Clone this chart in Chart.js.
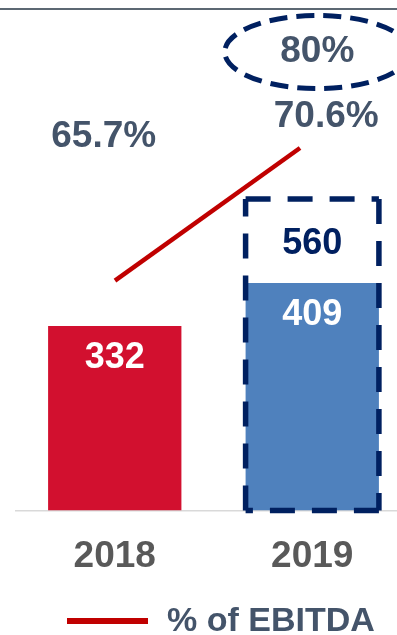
<!DOCTYPE html>
<html>
<head>
<meta charset="utf-8">
<script src="https://cdn.jsdelivr.net/npm/chart.js@4.4.0/dist/chart.umd.min.js"></script>
<style>
  html, body { margin: 0; padding: 0; background: #fff; overflow: hidden; }
  #wrap { position: relative; width: 411px; height: 635px; }
</style>
</head>
<body>
<div id="wrap"><canvas id="chart_ebitda"></canvas></div>
<script>
// chart data
const years = ["2018", "2019"];
const ebitda = [332, 409];
const ebitdaTarget = [null, 560];
const pctEbitda = [65.7, 70.6];
const pctTarget = [null, 80];

// colours / fonts
const FONT = "Arial, 'Liberation Sans', sans-serif";
const red_bar = "#D2102F";
const blue_bar = "#4F81BD";
const navy = "#002060";
const red_line = "#C00000";
const slate = "#44546A";

// thin rule along the top of the slide
const topRule = {
  id: "topRule",
  beforeDraw(chart) {
    const ctx = chart.ctx;
    ctx.save();
    ctx.strokeStyle = "#5c6873";
    ctx.lineWidth = 2;
    ctx.beginPath();
    ctx.moveTo(0, 9);
    ctx.lineTo(chart.width, 9);
    ctx.stroke();
    ctx.restore();
  },
};

// one dashed edge, starting on a dash at each corner
function dashedEdge(ctx, x1, y1, x2, y2) {
  ctx.beginPath();
  ctx.moveTo(x1, y1);
  ctx.lineTo(x2, y2);
  ctx.stroke();
}

// value labels, target box, target ellipse and legend
const annotations = {
  id: "annotations",
  afterDatasetsDraw(chart) {
    const ctx = chart.ctx;
    const bars = chart.getDatasetMeta(0).data;
    const target = chart.getDatasetMeta(1).data;
    const pts = chart.getDatasetMeta(2).data;
    ctx.save();
    ctx.textAlign = "center";
    ctx.textBaseline = "middle";

    // bar values
    ctx.font = "bold 36px " + FONT;
    ctx.fillStyle = "#ffffff";
    bars.forEach((bar, i) => {
      ctx.fillText(String(ebitda[i]), bar.x, bar.y + 32);
    });

    // dashed target bar
    target.forEach((bar, i) => {
      if (ebitdaTarget[i] == null) return;
      const left = bar.x - bar.width / 2;
      const right = bar.x + bar.width / 2;
      const top = bar.y;
      const base = bar.base;
      ctx.strokeStyle = navy;
      ctx.lineWidth = 5.5;
      ctx.setLineDash([25, 17]);
      dashedEdge(ctx, left, top, right, top);
      dashedEdge(ctx, right, top, right, base);
      dashedEdge(ctx, right, base, left, base);
      dashedEdge(ctx, left, base, left, top);
      ctx.setLineDash([]);
      ctx.fillStyle = navy;
      ctx.fillText(String(ebitdaTarget[i]), bar.x, (top + bars[i].y) / 2 + 3);
    });

    // % of EBITDA labels
    ctx.font = "bold 37px " + FONT;
    ctx.fillStyle = slate;
    ctx.fillText(pctEbitda[0].toFixed(1) + "%", bars[0].x - 11, pts[0].y - 144);
    ctx.fillText(pctEbitda[1].toFixed(1) + "%", bars[1].x + 14, pts[1].y - 31);

    // target percentage in dashed ellipse
    pctTarget.forEach((v, i) => {
      if (v == null) return;
      const cx = bars[i].x + 5;
      const cy = chart.chartArea.top + 42;
      ctx.strokeStyle = navy;
      ctx.lineWidth = 5;
      ctx.setLineDash([18, 9]);
      ctx.beginPath();
      ctx.ellipse(cx, cy, 92.5, 36.5, 0, 0, Math.PI * 2);
      ctx.stroke();
      ctx.setLineDash([]);
      ctx.fillStyle = slate;
      ctx.fillText(v + "%", cx, cy);
    });

    // legend (line series only)
    const ds = chart.data.datasets[2];
    ctx.fillStyle = ds.borderColor;
    ctx.fillRect(67, 618, 81, 6);
    ctx.font = "bold 34px " + FONT;
    ctx.fillStyle = slate;
    ctx.textAlign = "left";
    ctx.fillText(ds.label, 167, 622);
    ctx.restore();
  },
};

const ctx = document.getElementById("chart_ebitda").getContext("2d");

chart = new Chart(ctx, {
  data: {
    labels: years,
    datasets: [
      {
        type: "bar",
        label: "EBITDA",
        data: ebitda,
        backgroundColor: [red_bar, blue_bar],
        borderWidth: 0,
        grouped: false,
        order: 2,
      },
      {
        type: "bar",
        label: "EBITDA target",
        data: ebitdaTarget,
        backgroundColor: "rgba(0,0,0,0)",
        borderWidth: 0,
        grouped: false,
        order: 3,
      },
      {
        type: "line",
        label: "% of EBITDA",
        // one point per year, on its own (slightly narrower) x scale
        data: pctEbitda.map((v, i) => ({ x: i, y: v })),
        xAxisID: "x2",
        yAxisID: "y1",
        borderColor: red_line,
        borderWidth: 4.5,
        pointRadius: 0,
        fill: false,
        order: 1,
      },
    ],
  },
  options: {
    responsive: true,
    maintainAspectRatio: false,
    animation: false,
    layout: {
      padding: { top: 10, left: 16, right: 0, bottom: 32 },
    },
    datasets: {
      bar: { barPercentage: 0.675, categoryPercentage: 1 },
    },
    plugins: {
      legend: { display: false },
      tooltip: { enabled: false },
    },
    scales: {
      x: {
        grid: { display: false, drawTicks: false },
        border: { display: true, color: "#D9D9D9", width: 1.5 },
        ticks: {
          padding: 24,
          color: "#595959",
          font: { family: FONT, size: 37, weight: "bold" },
        },
      },
      x2: {
        type: "linear",
        display: false,
        min: -0.535,
        max: 1.6,
      },
      y: {
        display: false,
        min: 0,
        max: 900,
      },
      y1: {
        display: false,
        min: 57.2,
        max: 75.7,
      },
    },
  },
  plugins: [topRule, annotations],
});
</script>
</body>
</html>
